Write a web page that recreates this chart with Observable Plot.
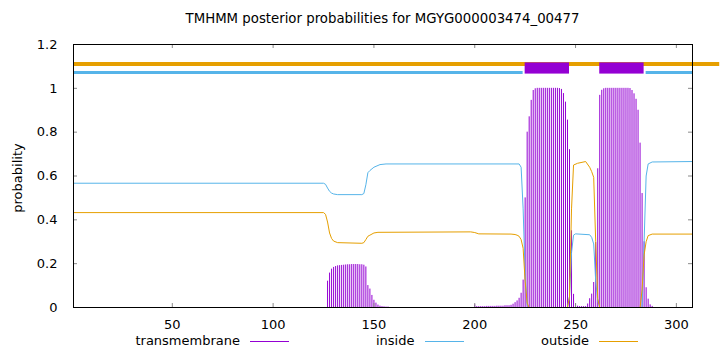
<!DOCTYPE html>
<html>
<head>
<meta charset="utf-8">
<script src="https://cdn.jsdelivr.net/npm/d3@7"></script>
<script src="https://cdn.jsdelivr.net/npm/@observablehq/plot@0.6"></script>
<style>
  html, body { margin: 0; padding: 0; background: #fff; overflow: hidden; width: 720px; height: 352px; }
  #wrap { position: relative; width: 720px; height: 352px; font-family: "DejaVu Sans", sans-serif; color: #000; }
  #chart { position: absolute; left: 0; top: 0; }
  #title { position: absolute; top: 11px; left: 73px; width: 619px; text-align: center; font-size: 13.3px; white-space: nowrap; }
  #ylabel { position: absolute; left: 17px; top: 178px; font-size: 13px; white-space: nowrap; transform: translate(-50%, -50%) rotate(-90deg); }
  .leg-text { position: absolute; top: 333px; font-size: 13px; text-align: right; white-space: nowrap; }
  .leg-line { position: absolute; top: 341px; height: 0; border-top-width: 1px; border-top-style: solid; }
</style>
</head>
<body>
<div id="wrap">
  <div id="chart"></div>
  <div id="title"></div>
  <div id="ylabel"></div>
  <div id="legend"></div>
</div>
<script>
// ---------- data ----------
const titleText = "TMHMM posterior probabilities for MGYG000003474_00477";
const yLabelText = "probability";
const seriesNames = ["transmembrane", "inside", "outside"];
const seriesColors = ["#9400d3", "#56b4e9", "#e69f00"];

const xDomain = [1, 308];
const yDomain = [0, 1.2];
const xTicks = [50, 100, 150, 200, 250, 300];
const yTicks = [0, 0.2, 0.4, 0.6, 0.8, 1, 1.2];

// transmembrane posterior probability per residue (residues not listed are ~0)
const tmResidue = [
  127,128,129,130,131,132,133,134,135,136,137,138,139,140,141,142,143,144,145,146,
  147,148,149,150,151,152,153,154,155,156,157,
  200,201,202,203,204,205,206,207,208,209,210,211,212,213,214,215,216,217,218,219,
  220,221,222,223,224,225,226,227,228,229,230,231,232,233,234,235,236,237,238,239,
  240,241,242,243,244,245,246,247,248,249,250,251,252,253,254,255,256,257,258,259,
  260,261,262,263,264,265,266,267,268,269,270,271,272,273,274,275,276,277,278,279,
  280,281,282,283,284,285,286,287,288
];
const tmProb = [
  0.12,0.157,0.175,0.183,0.187,0.19,0.191,0.192,0.193,0.194,0.195,0.195,0.196,0.196,0.196,0.196,0.195,0.195,0.193,0.185,
  0.10,0.084,0.055,0.033,0.02,0.011,0.006,0.004,0.003,0.002,0.002,
  0.012,0.004,0.004,0.004,0.004,0.004,0.005,0.005,0.005,0.005,0.005,0.006,0.006,0.006,0.006,0.008,0.008,0.008,0.01,0.015,
  0.022,0.03,0.042,0.065,0.125,0.5,0.8,0.87,0.945,0.99,0.998,1,1,1,1,1,1,1,1,1,
  1,1,0.999,0.995,0.976,0.937,0.855,0.72,0.35,0.06,0.017,0.006,0.004,0.004,0.004,0.004,0.016,0.04,0.061,0.114,
  0.297,0.633,0.968,0.991,0.998,1,1,1,1,1,1,1,1,1,1,1,1,0.999,0.99,0.975,
  0.95,0.9,0.75,0.52,0.3,0.09,0.038,0.012,0.005
];

// inside posterior probability (residue, probability)
const insideResidue = [1,125,126,127,128,129,130,132,144,145,146,147,148,150,153,156,222,223,224,225,226,227,246,247,248,249,250,257,258,259,260,261,262,283,284,285,286,288,308];
const insideProb    = [0.567,0.567,0.562,0.545,0.53,0.522,0.518,0.515,0.515,0.52,0.56,0.615,0.625,0.64,0.652,0.655,0.655,0.64,0.45,0.15,0.01,0,0,0.05,0.25,0.33,0.336,0.332,0.32,0.29,0.12,0.03,0,0,0.3,0.6,0.655,0.664,0.666];

// outside posterior probability (residue, probability)
const outsideResidue = [1,125,126,127,128,129,130,132,144,145,146,147,148,150,152,198,200,202,218,220,221,222,223,224,225,226,227,246,247,248,249,251,255,257,258,259,260,261,262,282,283,284,285,286,288,308];
const outsideProb    = [0.433,0.433,0.425,0.39,0.34,0.315,0.303,0.296,0.293,0.296,0.31,0.325,0.33,0.34,0.343,0.345,0.342,0.336,0.335,0.333,0.33,0.325,0.31,0.27,0.12,0.02,0,0,0.05,0.45,0.65,0.658,0.666,0.64,0.62,0.594,0.3,0.04,0,0,0.08,0.24,0.3,0.328,0.335,0.335];

// predicted topology segments (residue ranges)
const topoOutsideStart = [1],        topoOutsideEnd = [321.5];
const topoInsideStart  = [1, 285],   topoInsideEnd  = [224, 308];
const topoTMStart      = [225, 262], topoTMEnd      = [247, 284];

// ---------- build tables ----------
const tm = tmResidue.map((r, i) => ({r, p: tmProb[i]}));
const inside = insideResidue.map((r, i) => ({r, p: insideProb[i]}));
const outside = outsideResidue.map((r, i) => ({r, p: outsideProb[i]}));
const segs = (s, e) => s.map((a, i) => ({start: a, end: e[i]}));
const topoOut = segs(topoOutsideStart, topoOutsideEnd);
const topoIn = segs(topoInsideStart, topoInsideEnd);
const topoTM = segs(topoTMStart, topoTMEnd);

const [cTM, cIn, cOut] = seriesColors;
const W = 720, H = 352, mL = 73, mR = 28, mT = 44, mB = 45;
const innerW = W - mL - mR, innerH = H - mT - mB;
const tickLen = 4, tickColor = "#8a8a8a";

const chart = Plot.plot({
  width: W, height: H,
  marginLeft: mL, marginRight: mR, marginTop: mT, marginBottom: mB,
  style: {fontFamily: '"DejaVu Sans", sans-serif', fontSize: "13px", color: "#000", background: "transparent", overflow: "hidden"},
  x: {domain: xDomain},
  y: {domain: yDomain},
  marks: [
    Plot.ruleX(tm, {x: "r", y1: () => 0, y2: "p", stroke: cTM, strokeWidth: 1}),
    Plot.line(inside, {x: "r", y: "p", stroke: cIn, strokeWidth: 1}),
    Plot.line(outside, {x: "r", y: "p", stroke: cOut, strokeWidth: 1}),
    Plot.ruleY(topoOut, {y: () => 1.111, x1: "start", x2: "end", stroke: cOut, strokeWidth: 4}),
    Plot.ruleY(topoIn, {y: () => 1.072, x1: "start", x2: "end", stroke: cIn, strokeWidth: 3}),
    Plot.rect(topoTM, {x1: "start", x2: "end", y1: () => 1.065, y2: () => 1.116, fill: cTM}),
    Plot.ruleX(xTicks, {x: d => d, insetTop: innerH - tickLen, stroke: tickColor}),
    Plot.ruleX(xTicks, {x: d => d, insetBottom: innerH - tickLen, stroke: tickColor}),
    Plot.ruleY(yTicks, {y: d => d, insetRight: innerW - tickLen, stroke: tickColor}),
    Plot.ruleY(yTicks, {y: d => d, insetLeft: innerW - tickLen, stroke: tickColor}),
    Plot.frame({stroke: "#000"}),
    Plot.axisX({ticks: xTicks, tickSize: 0, tickPadding: 12, fontSize: 13, label: null}),
    Plot.axisY({ticks: yTicks, tickSize: 0, tickPadding: 16, fontSize: 13, label: null, tickFormat: d => String(+d.toFixed(1))})
  ]
});
document.getElementById("chart").appendChild(chart);

document.getElementById("title").textContent = titleText;
document.getElementById("ylabel").textContent = yLabelText;

const legend = document.getElementById("legend");
seriesNames.forEach((name, i) => {
  const textEnd = 240 + i * 174.5;
  const t = document.createElement("div");
  t.className = "leg-text";
  t.textContent = name;
  t.style.right = (W - textEnd) + "px";
  legend.appendChild(t);
  const l = document.createElement("div");
  l.className = "leg-line";
  l.style.left = (textEnd + 10) + "px";
  l.style.width = "39px";
  l.style.borderTopColor = seriesColors[i];
  legend.appendChild(l);
});
</script>
</body>
</html>
